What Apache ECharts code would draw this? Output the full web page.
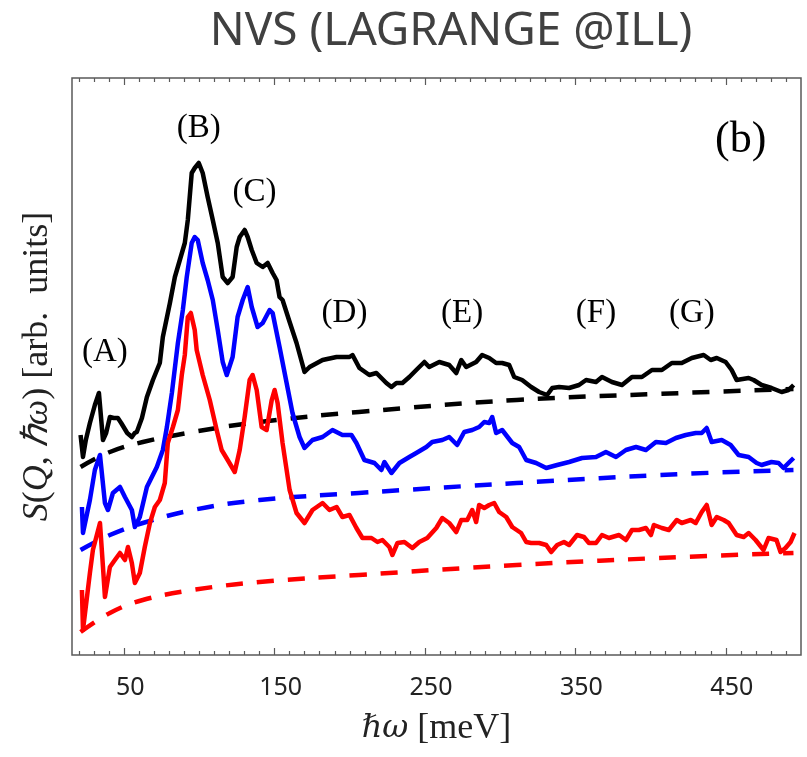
<!DOCTYPE html>
<html><head><meta charset="utf-8">
<script src="https://cdn.jsdelivr.net/npm/echarts@6/dist/echarts.min.js"></script>
<style>html,body{margin:0;padding:0;background:#fff}#c{width:807px;height:757px}</style>
</head><body><div id="c"></div>
<script>
const titleText = 'NVS (LAGRANGE @ILL)';
const xMin = 15.3, xMax = 500, yMin = 0, yMax = 577;
const majorTicks = [50, 150, 250, 350, 450];
const minorTicks = [20,30,40,60,70,80,90,100,110,120,130,140,160,170,180,190,200,210,220,230,240,260,270,280,290,300,310,320,330,340,360,370,380,390,400,410,420,430,440,460,470,480,490];

const blackData = [[21.0,220],[22.6,198],[24.5,215],[27.2,232],[30.5,250],[33.2,262],[35.9,215],[38.0,222],[40.5,238],[43.0,237],[45.8,237],[48.0,232],[49.2,230],[52.0,222],[55.1,218],[57.0,222],[58.4,223],[61.8,237],[65.1,258],[69.1,275],[73.7,292],[75.7,318],[80.4,352],[83.7,378],[87.0,395],[90.3,412],[92.3,435],[94.9,482],[96.9,487],[99.6,492],[102.2,482],[105.5,458],[108.9,435],[112.2,412],[115.5,378],[118.8,372],[122.1,378],[124.8,408],[126.8,418],[130.1,425],[132.1,418],[134.8,405],[138.1,392],[142.1,388],[145.4,392],[148.7,382],[151.3,375],[153.3,358],[155.3,355],[160.0,333],[164.6,312],[169.9,283],[173.3,288],[181.9,295],[191.2,298],[199.8,298],[201.8,300],[206.4,287],[213.0,280],[217.7,282],[224.3,272],[227.7,268],[231.0,272],[235.0,272],[239.6,278],[244.2,285],[249.6,293],[252.8,288],[259.5,293],[266.1,290],[270.8,282],[274.1,295],[277.4,288],[284.0,293],[288.0,300],[292.7,297],[297.3,292],[301.3,292],[306.0,290],[309.3,278],[314.6,275],[320.6,268],[325.9,263],[331.2,260],[334.6,267],[339.2,268],[345.8,267],[352.4,270],[357.1,275],[363.7,273],[367.7,278],[374.3,273],[381.0,270],[387.6,278],[394.2,278],[400.9,285],[407.5,285],[414.1,292],[420.7,292],[427.4,297],[435.3,300],[440.0,295],[444.0,297],[449.9,293],[453.9,285],[457.2,275],[465.2,277],[468.5,275],[473.8,270],[480.4,267],[487.1,263],[491.7,265],[495.1,270]];

const blueData = [[21.9,148],[22.6,122],[27.2,155],[30.5,185],[33.9,200],[37.2,152],[39.2,145],[42.5,162],[47.2,168],[50.5,158],[55.1,145],[57.1,128],[60.4,138],[65.1,168],[71.7,188],[75.7,205],[78.4,228],[81.7,262],[85.7,312],[89.0,345],[91.6,378],[94.9,412],[96.9,418],[98.9,415],[102.2,392],[105.5,375],[108.9,355],[112.2,325],[115.5,293],[118.2,280],[122.1,298],[125.4,338],[128.8,355],[132.1,368],[134.8,348],[138.7,328],[142.1,332],[146.7,345],[148.7,342],[153.3,308],[158.0,272],[161.9,242],[166.6,218],[169.9,207],[175.2,215],[181.9,218],[188.5,225],[195.1,220],[201.1,220],[204.4,212],[209.7,195],[216.4,192],[221.0,185],[223.0,193],[227.7,182],[233.0,192],[239.6,198],[244.2,202],[250.9,208],[254.8,213],[261.5,215],[266.1,218],[271.4,210],[276.1,223],[281.4,225],[286.0,228],[289.4,233],[292.7,232],[294.7,238],[297.3,222],[301.3,225],[308.0,212],[312.6,208],[317.3,195],[323.9,192],[330.6,187],[337.9,190],[345.8,193],[354.4,197],[363.7,198],[370.3,203],[377.0,198],[383.6,205],[390.3,208],[396.9,205],[403.5,213],[410.2,212],[416.8,217],[423.4,220],[430.0,222],[434.0,222],[437.3,227],[440.6,213],[447.3,215],[453.2,210],[458.5,200],[465.2,198],[470.5,192],[473.8,190],[480.4,193],[485.1,192],[488.4,187],[491.7,192],[495.1,197]];

const redData = [[21.9,65],[22.6,25],[27.2,82],[29.2,105],[33.9,132],[35.9,88],[37.2,58],[40.5,88],[43.8,95],[47.2,102],[50.5,95],[52.5,108],[55.1,92],[57.1,72],[60.4,82],[63.7,108],[67.1,132],[70.4,148],[73.7,155],[77.0,172],[79.0,212],[82.4,228],[85.7,245],[88.3,280],[90.3,300],[92.3,338],[94.3,342],[96.9,325],[98.2,305],[102.2,280],[106.9,255],[111.5,225],[114.8,205],[118.8,195],[123.5,183],[126.8,205],[130.1,238],[133.4,275],[135.4,280],[138.1,265],[141.4,228],[144.7,225],[148.1,255],[150.0,265],[152.0,252],[155.3,212],[160.0,165],[164.6,142],[169.9,132],[175.2,145],[181.9,152],[186.5,145],[191.2,148],[195.1,138],[199.8,140],[204.4,127],[208.4,117],[214.4,117],[218.4,113],[221.7,115],[226.3,108],[228.3,100],[231.7,112],[236.3,113],[241.6,107],[246.2,113],[251.5,117],[257.5,127],[261.5,137],[266.1,132],[270.8,123],[274.1,135],[278.1,135],[281.4,145],[284.0,133],[286.0,150],[289.4,147],[292.7,150],[296.0,152],[299.3,143],[304.0,138],[308.0,128],[313.9,122],[317.3,113],[320.6,112],[325.9,112],[330.6,110],[333.9,103],[337.9,110],[342.4,113],[345.8,110],[351.1,120],[355.7,118],[359.0,112],[363.7,112],[367.7,120],[372.3,117],[379.0,120],[383.6,115],[387.6,125],[392.2,125],[396.9,127],[400.2,120],[402.2,130],[407.5,127],[412.1,125],[417.4,135],[420.7,132],[426.7,135],[430.0,132],[434.0,143],[437.3,150],[440.6,130],[444.0,138],[448.6,135],[451.9,132],[457.2,120],[461.9,118],[465.2,122],[469.8,115],[475.1,105],[478.4,117],[483.7,115],[486.4,103],[489.7,107],[493.1,113],[495.7,122]];

const blackBase = [[21,188],[40.5,203],[62.4,213],[95.6,223],[140,233],[206,243],[311,255],[421,262],[495,266]];
const blueBase  = [[21,105],[40.5,120],[62.4,132],[95.6,145],[140,155],[206,162],[311,172],[421,181],[495,185]];
const redBase   = [[21,23],[40.5,42],[62.4,55],[95.6,65],[140,73],[206,80],[311,90],[421,98],[495,102]];

const annoText = ['(A)','(B)','(C)','(D)','(E)','(F)','(G)'];
const annoX = [37.2, 99.6, 136.7, 196.5, 274.7, 363.7, 427.4];
const annoY = [303, 527, 463, 342, 342, 342, 342];
const panelText = '(b)';
const panelPos = [459.9, 515];

const chart = echarts.init(document.getElementById('c'), null, {renderer: 'canvas'});
const axisGray = '#5a5a5a';
function xAx(pos, ticks, len, labels) {
  return {
    type: 'value', position: pos, min: xMin, max: xMax,
    axisLine: {show: false},
    splitLine: {show: false},
    axisTick: {show: true, inside: true, length: len, customValues: ticks, lineStyle: {color: axisGray, width: 1.2}},
    axisLabel: labels ? {show: true, customValues: labels, fontFamily: 'Noto Sans', fontSize: 25, color: '#222', margin: 20, padding: [0,0,0,12]} : {show: false}
  };
}
const xAxes = [
  Object.assign(xAx('bottom', minorTicks, 4, majorTicks), {
    name: '{i|ℏω} [meV]', nameLocation: 'middle', nameGap: 56,
    nameTextStyle: {fontFamily: 'Liberation Serif', fontSize: 36, color: '#222',
      rich: {i: {fontFamily: 'DejaVu Serif', fontStyle: 'italic', fontSize: 32, color: '#222'}}}
  }),
  xAx('bottom', majorTicks, 7, null),
  xAx('top', minorTicks, 4, null),
  xAx('top', majorTicks, 7, null)
];

const annoSeries = {
  type: 'scatter', xAxisIndex: 0, symbolSize: 0, silent: true, z: 5,
  data: annoText.map((t, i) => ({name: t, value: [annoX[i], annoY[i]]})).concat([{name: panelText, value: panelPos, label: {fontSize: 44}}]),
  label: {show: true, position: 'inside', formatter: p => p.name, fontFamily: 'Liberation Serif', fontSize: 33, color: '#000', textBorderWidth: 0, opacity: 1}
};

function line(data, color, dashed) {
  return {
    type: 'line', xAxisIndex: 0, data: data, showSymbol: false, symbol: 'none',
    smooth: dashed ? 0.4 : false, silent: true,
    lineStyle: {color: color, width: 4.5, type: dashed ? [17, 14] : 'solid', join: 'round', cap: 'butt'}
  };
}

chart.setOption({
  animation: false,
  backgroundColor: '#fff',
  title: {text: titleText, left: 446, top: 4, textAlign: 'center',
    textStyle: {fontFamily: 'Noto Sans', fontWeight: 'normal', fontSize: 46, color: '#404040'}},
  grid: {left: 72, right: 6, top: 78, bottom: 102, show: true, borderColor: axisGray, borderWidth: 1.5, backgroundColor: 'transparent'},
  xAxis: xAxes,
  yAxis: {
    type: 'value', min: yMin, max: yMax,
    axisLine: {show: false}, axisTick: {show: false}, axisLabel: {show: false}, splitLine: {show: false},
    name: '{i|S}({i|Q}, {i|ℏω}) [arb.  units]', nameLocation: 'middle', nameGap: 16, nameRotate: 90,
    nameTextStyle: {fontFamily: 'Liberation Serif', fontSize: 36, color: '#222',
      rich: {i: {fontFamily: 'Liberation Serif', fontStyle: 'italic', fontSize: 36, color: '#222'}}}
  },
  series: [
    line(blackBase, '#000000', true),
    line(blueBase, '#0000ff', true),
    line(redBase, '#ff0000', true),
    line(blackData, '#000000', false),
    line(blueData, '#0000ff', false),
    line(redData, '#ff0000', false),
    annoSeries
  ]
});
</script>
</body></html>
